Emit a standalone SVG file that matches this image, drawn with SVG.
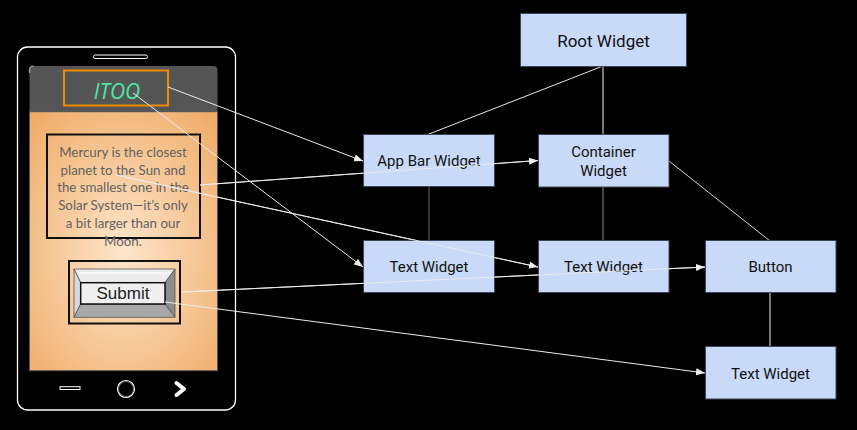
<svg xmlns="http://www.w3.org/2000/svg" width="857" height="430" viewBox="0 0 857 430">
<defs>
<style>
.node rect{fill:#c9daf8;stroke:#3c4656;stroke-width:1}
.node text{font-family:Roboto,"Liberation Sans",Arial,sans-serif;font-size:15px;fill:#111;text-anchor:middle}
.tree line{stroke-width:1}
.arr{stroke:#ececec;stroke-width:1;fill:none;marker-end:url(#ah)}
.body{font-family:Lato,"Open Sans",sans-serif;font-size:13.3px;fill:#626262;text-anchor:middle}
</style>
<marker id="ah" viewBox="0 0 10 10" refX="10" refY="5" markerWidth="9" markerHeight="9" markerUnits="userSpaceOnUse" orient="auto">
<path d="M0,1 L10,5 L0,9 z" fill="#ececec"/>
</marker>
<radialGradient id="scr" cx="0.5" cy="0.55" r="0.75">
<stop offset="0" stop-color="#fde6cc"/>
<stop offset="1" stop-color="#efa963"/>
</radialGradient>
</defs>
<rect width="857" height="430" fill="#000"/>

<g id="phone">
<rect x="17.5" y="47" width="218" height="363" rx="10" fill="#000" stroke="#fff" stroke-width="1.3"/>
<rect x="93.5" y="55" width="54" height="3.5" rx="1.7" fill="none" stroke="#fff" stroke-width="1"/>
<path d="M29.5,111.7 V70 Q29.5,66 34,66 H213 Q217.5,66 217.5,70 V111.7 Z" fill="#555"/>
<rect x="29.5" y="111.7" width="188" height="259" fill="url(#scr)" stroke="#555" stroke-width="1"/>
<path d="M29.5,73 V70 Q29.5,66 34,66" fill="none" stroke="#aab" stroke-width="1.2"/>
<rect x="60" y="386.7" width="20" height="2.8" fill="none" stroke="#fff" stroke-width="1"/>
<circle cx="126" cy="389" r="8.5" fill="none" stroke="#fff" stroke-width="1.2"/>
<circle cx="126" cy="389" r="7.5" fill="none" stroke="#888" stroke-width="0.8"/>
<path d="M176.5,383 L184,389 L176.5,395" fill="none" stroke="#fff" stroke-width="4" stroke-linejoin="round" stroke-linecap="round"/>
</g>

<g id="itoo">
<rect x="64" y="70.5" width="104" height="35" fill="none" stroke="#f08c00" stroke-width="2"/>
<text x="117" y="99" font-family="'Open Sans','Liberation Sans',sans-serif" font-size="21" font-style="italic" fill="#4de8a8" text-anchor="middle">ITOO</text>
</g>

<g id="textbox">
<rect x="47" y="134.5" width="153" height="103.5" fill="none" stroke="#111" stroke-width="2"/>
<text class="body" x="123" y="156.5">Mercury is the closest</text>
<text class="body" x="123" y="174.5">planet to the Sun and</text>
<text class="body" x="123" y="192.3">the smallest one in the</text>
<text class="body" x="123" y="210">Solar System—it’s only</text>
<text class="body" x="123" y="227.5">a bit larger than our</text>
<text class="body" x="123" y="245.5">Moon.</text>
</g>

<g id="submit">
<rect x="69" y="261" width="111" height="62.5" fill="none" stroke="#111" stroke-width="2"/>
<path d="M74,269 H175 L165,282.7 H80.7 Z" fill="#ececec" stroke="#555" stroke-width="0.8"/>
<path d="M74,269 L80.7,282.7 V304 L74,317.3 Z" fill="#d8d8d8" stroke="#555" stroke-width="0.8"/>
<path d="M175,269 V317.3 L165,304 V282.7 Z" fill="#8c8c8c" stroke="#555" stroke-width="0.8"/>
<path d="M74,317.3 H175 L165,304 H80.7 Z" fill="#a8a8a8" stroke="#555" stroke-width="0.8"/>
<path d="M78,273 H171" stroke="#fff" stroke-width="1" fill="none"/>
<rect x="80.7" y="282.7" width="84.3" height="21.3" fill="#efefef" stroke="#111" stroke-width="1.5"/>
<text x="123" y="299" font-family="'Liberation Sans',Arial,sans-serif" font-size="17" fill="#222" text-anchor="middle">Submit</text>
</g>

<g id="connectors">
<g class="tree">
<line x1="603" y1="66" x2="429" y2="134" stroke="#e6e6e6"/>
<line x1="603" y1="66" x2="603" y2="134" stroke="#f2f2f2"/>
<line x1="429" y1="187" x2="429" y2="241" stroke="#666"/>
<line x1="603" y1="187" x2="603" y2="241" stroke="#888"/>
<line x1="669" y1="161" x2="770" y2="241" stroke="#d6d6d6"/>
<line x1="770" y1="293" x2="770" y2="346.5" stroke="#f2f2f2"/>
</g>
<line class="arr" x1="168" y1="87" x2="363" y2="161"/>
<line class="arr" x1="133" y1="93" x2="363" y2="267"/>
<line class="arr" x1="200" y1="185" x2="538" y2="160.5"/>
<line class="arr" x1="116" y1="175" x2="538" y2="267"/>
<line class="arr" x1="182" y1="292" x2="705" y2="267"/>
<line class="arr" x1="165" y1="302" x2="705" y2="373"/>
</g>

<g id="root" class="node"><rect x="520.5" y="13.5" width="166" height="53"/><text x="603.5" y="46.5" style="font-size:17px">Root Widget</text></g>
<g id="appbar" class="node"><rect x="363.5" y="134.5" width="131" height="52"/><text x="429" y="166">App Bar Widget</text></g>
<g id="container" class="node"><rect x="538.5" y="134.5" width="130.5" height="52.5"/><text x="603.5" y="157">Container</text><text x="603.5" y="176">Widget</text></g>
<g id="text1" class="node"><rect x="363.5" y="240.5" width="131" height="52"/><text x="429" y="272">Text Widget</text></g>
<g id="text2" class="node"><rect x="538.5" y="240.5" width="130.5" height="52"/><text x="603.5" y="272">Text Widget</text></g>
<g id="button" class="node"><rect x="705.5" y="240.5" width="130.5" height="52"/><text x="770.5" y="272">Button</text></g>
<g id="text3" class="node"><rect x="705.5" y="346.5" width="130.5" height="52.5"/><text x="770.5" y="378.5">Text Widget</text></g>

<g id="overlay">
<line x1="200" y1="185" x2="538" y2="160.5" stroke="#ececec" stroke-width="1" opacity="0.9"/>
<line x1="116" y1="175" x2="538" y2="267" stroke="#ececec" stroke-width="1" opacity="0.9"/>
<line x1="182" y1="292" x2="705" y2="267" stroke="#ececec" stroke-width="1" opacity="0.9"/>
</g>
</svg>
